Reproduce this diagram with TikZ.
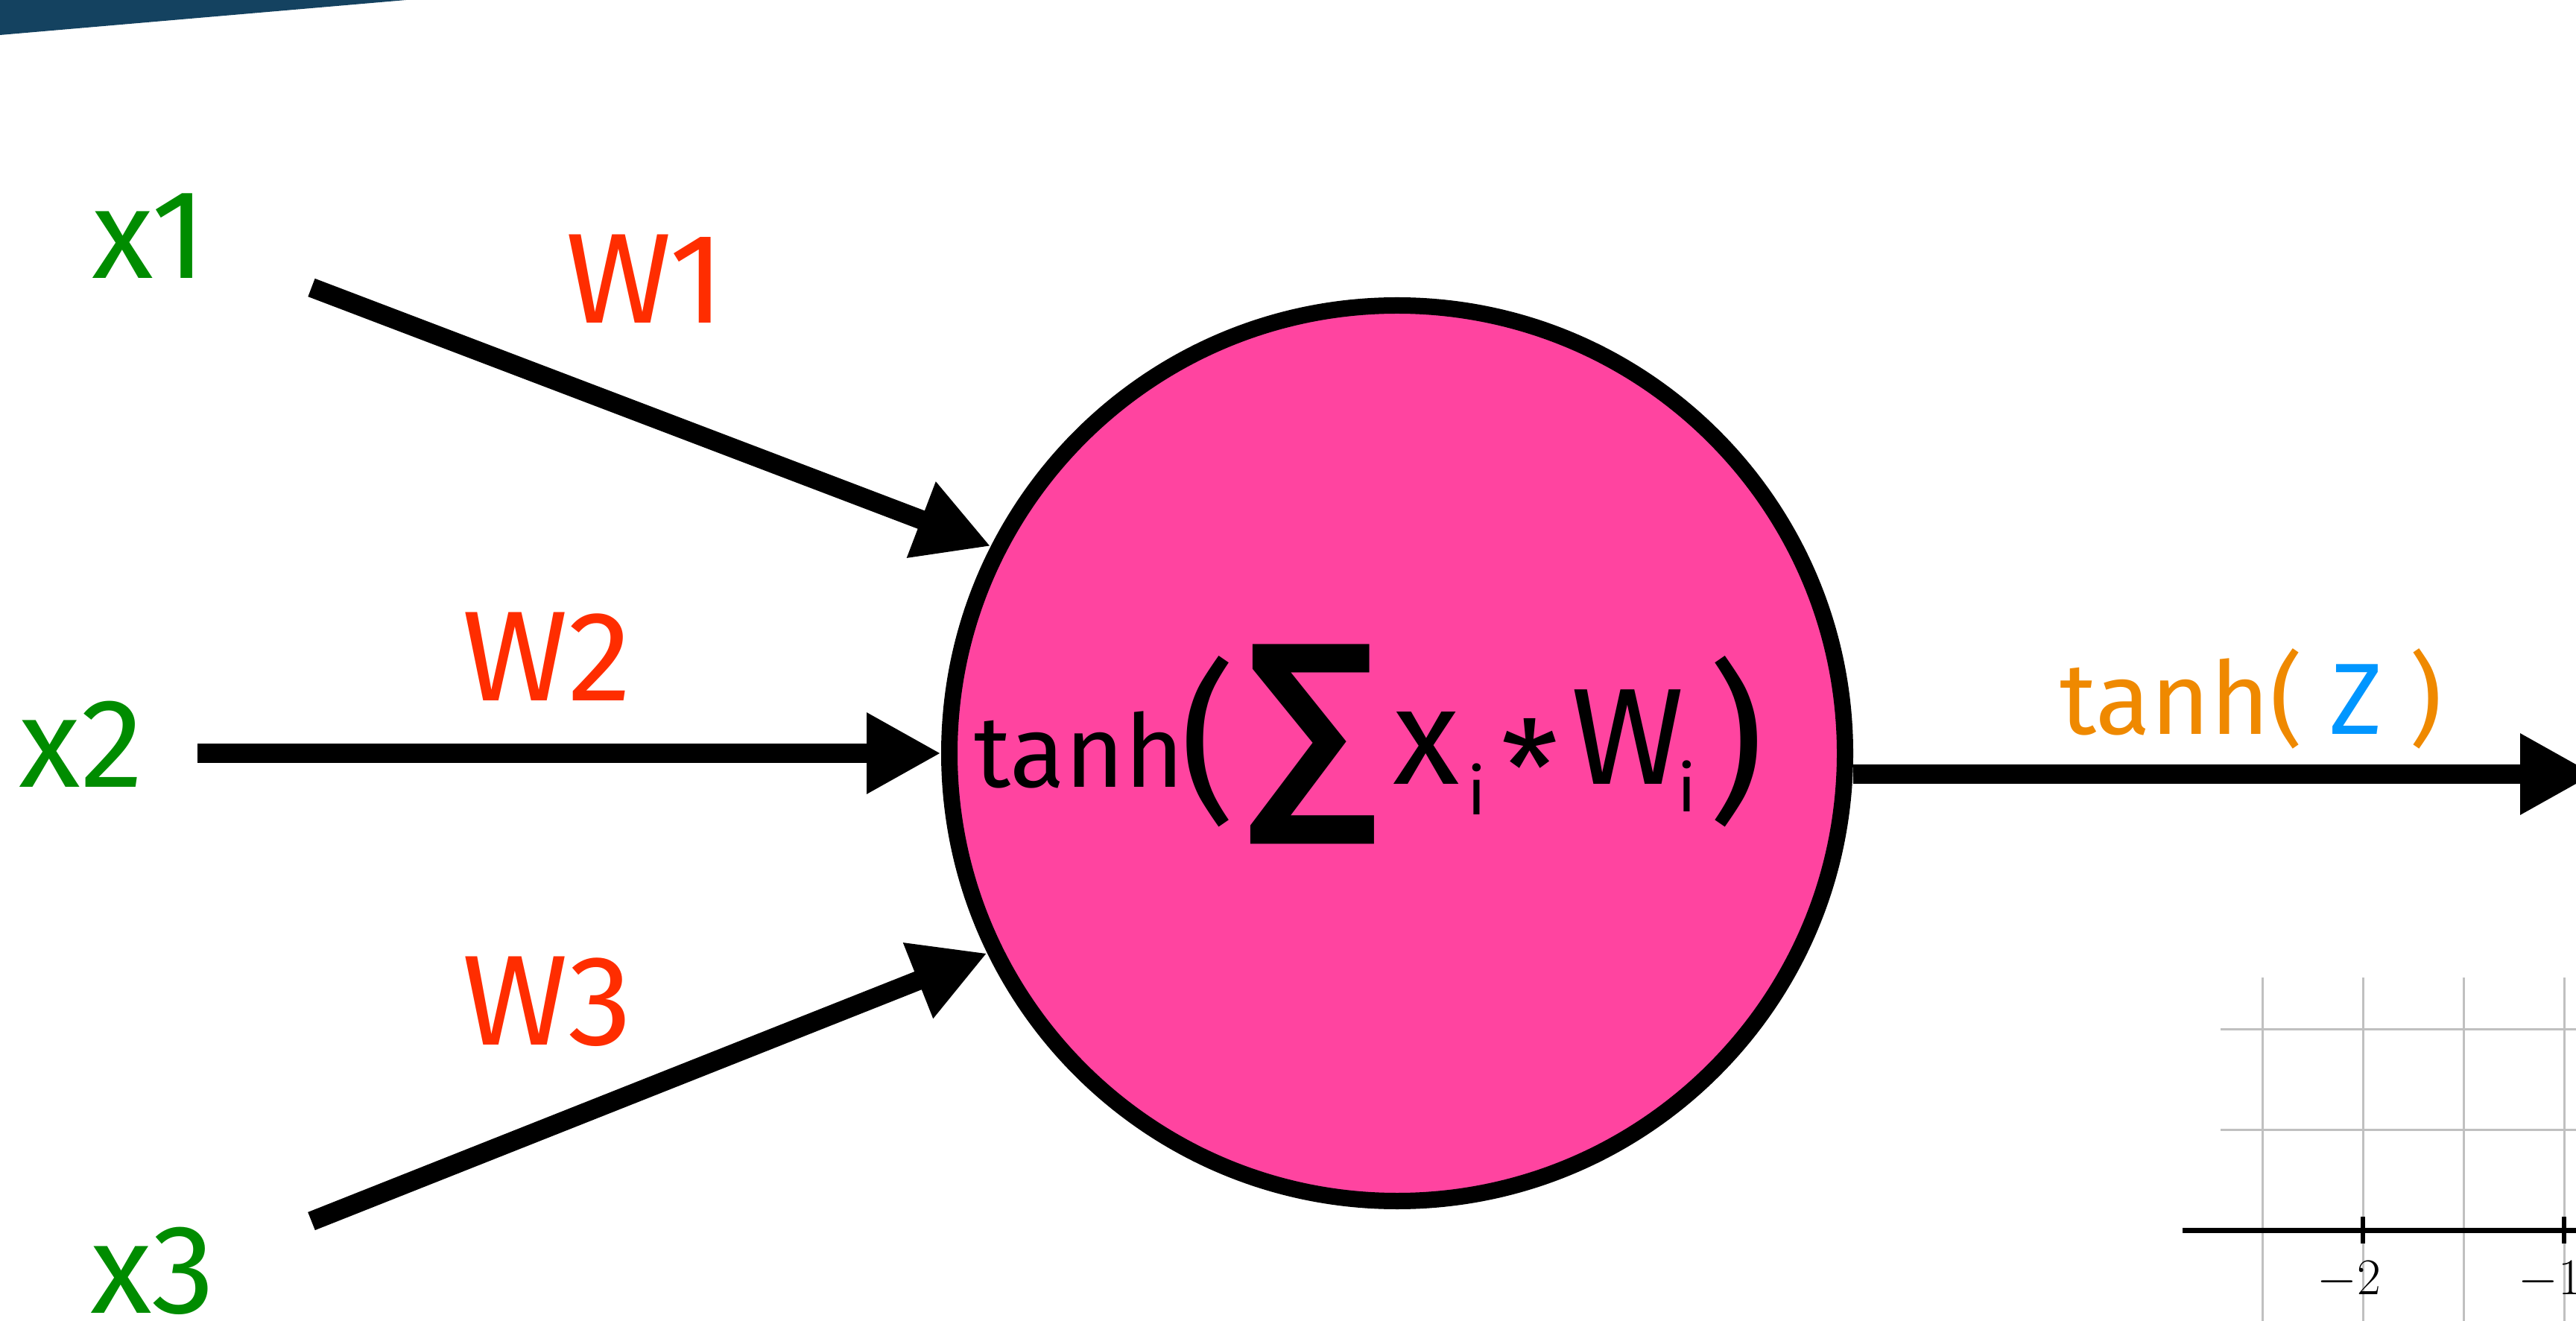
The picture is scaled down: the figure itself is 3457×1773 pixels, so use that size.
\documentclass[tikz,border=0pt]{standalone}
\usepackage{fontspec}
\usepackage{graphicx}
\setmainfont{Fira Sans}
\newfontfamily\djs{DejaVu Sans}
\usetikzlibrary{arrows.meta}
\definecolor{ingreen}{RGB}{0,140,0}
\definecolor{wred}{RGB}{255,45,0}
\definecolor{neuronpink}{RGB}{255,68,160}
\definecolor{outorange}{RGB}{239,137,0}
\definecolor{zblue}{RGB}{0,150,255}
\definecolor{bandblue}{RGB}{20,66,96}
\definecolor{gridgray}{RGB}{192,192,192}
\begin{document}
\begin{tikzpicture}[x=0.25pt,y=-0.25pt,
  inlab/.style={text=ingreen,font=\fontsize{42.5}{50}\selectfont,inner sep=0,anchor=base},
  wlab/.style={text=wred,font=\fontsize{43}{50}\selectfont,inner sep=0,anchor=base},
  arr/.style={line width=6.5pt,-{Triangle[length=25pt,width=25.5pt]}},
  neuronstyle/.style={circle,draw=black,line width=5.5pt,fill=neuronpink,minimum size=300.5pt,inner sep=0},
  ftxt/.style={inner sep=0,anchor=base,text=black},
  fmid/.style={inner sep=0,anchor=center,text=black},
  gridline/.style={draw=gridgray,line width=0.75pt},
  axisline/.style={draw=black,line width=1.75pt},
  tickline/.style={draw=black,line width=1.3pt},
  ticklab/.style={inner sep=0,anchor=base,font=\fontsize{17.28}{21}\selectfont}]
\useasboundingbox (0,0) rectangle (3457,1773);
\clip (0,0) rectangle (3457,1773);
\fill[bandblue] (0,0) -- (545,0) -- (0,47) -- cycle;
% plot fragment
\foreach \gx in {3036,3171,3306,3441} \draw[gridline] (\gx,1312) -- (\gx,1790);
\foreach \gy in {1381,1516} \draw[gridline] (2980,\gy) -- (3470,\gy);
\draw[axisline] (2929,1651) -- (3470,1651);
\foreach \tx in {3171,3441} \draw[tickline] (\tx,1633) -- (\tx,1669);
\node[ticklab] (tm2) at (3152,1737) {$-2$};
\node[ticklab] (tm1) at (3422,1737) {$-1$};
% neuron
\node[neuronstyle] (neuron) at (1875,1011) {};
\node[ftxt,font=\fontsize{34}{40}\selectfont] (ftanh) at (1448,1057) {tanh};
\node[fmid,font=\fontsize{58}{60}\selectfont] (flp) at (1621,995) {(};
\node[fmid] (fsum) at (1761,999) {\resizebox*{44pt}{67pt}{\djs\bfseries ∑}};
\node[ftxt,font=\fontsize{46}{50}\selectfont] (fx) at (1914,1053) {x};
\node[ftxt,font=\fontsize{22}{26}\selectfont] (fi1) at (1982,1093) {i};
\node[fmid,font=\fontsize{44}{50}\selectfont] (fast) at (2053,1029) {*};
\node[ftxt,font=\fontsize{46}{50}\selectfont] (fW) at (2184,1053) {W};
\node[ftxt,font=\fontsize{22}{26}\selectfont] (fi2) at (2264,1090) {i};
\node[fmid,font=\fontsize{58}{60}\selectfont] (frp) at (2330,995) {)};
% labels
\node[inlab] (x1) at (200,374) {x1};
\node[inlab] (x2) at (109,1057) {x2};
\node[inlab] (x3) at (205,1762) {x3};
\node[wlab] (w1) at (866,434) {W1};
\node[wlab] (w2) at (734,941) {W2};
\node[wlab] (w3) at (734,1402) {W3};
\node[inner sep=0,anchor=base,font=\fontsize{34}{40}\selectfont,text=outorange] (outlab) at (3021,986) {tanh( \textcolor{zblue}{Z} )};
% connectors
\coordinate (s1) at (418,386);
\coordinate (s2) at (265,1011);
\coordinate (s3) at (418,1639);
\coordinate (oend) at (3482,1039);
\draw[arr] (s1) -- (neuron.153.4);
\draw[arr] (s2) -- (neuron.west);
\draw[arr] (s3) -- (neuron.206.7);
\draw[arr] (neuron.east |- oend) -- (oend);
\end{tikzpicture}
\end{document}
